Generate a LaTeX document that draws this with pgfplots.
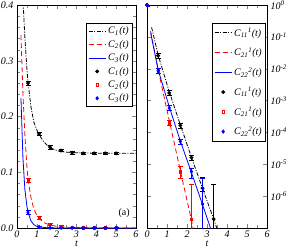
\documentclass[border=0pt]{standalone}
\usepackage{fontspec}
\setmainfont{Liberation Serif}
\usepackage{pgfplots}
\pgfplotsset{compat=1.18}
\newcommand{\Ct}[2]{\textit{C\textsubscript{#1}\textsuperscript{#2}(t)}}
\begin{document}
\begin{tikzpicture}
\useasboundingbox (-17pt,-22pt) rectangle (272pt,228pt);
\pgfplotsset{
  every axis/.append style={
    scale only axis,
    height=223pt,
    tick align=inside,
    ticklabel style={font=\itshape\normalsize, /pgf/number format/assume math mode=true},
    xmin=0, xmax=6, xtick={0,1,2,3,4,5,6}, minor x tick num=1,
    xlabel={\textit{t}},
    xlabel style={yshift=3pt},
    xticklabel style={yshift=1pt},
    legend cell align=left,
    clip mode=individual,
    legend style={draw=black, line width=0.6pt, inner xsep=2pt, inner ysep=1.5pt, font=\normalsize},
    every axis plot/.append style={line width=0.8pt},
    error bars/error bar style={line width=0.5pt},
    error bars/error mark options={line width=0.5pt, mark size=2.5pt, rotate=90},
  },
  ddot/.style={black, dash pattern=on 4pt off 1.5pt on 1pt off 1.5pt},
  rdash/.style={red, dash pattern=on 5pt off 3pt},
  bsol/.style={blue},
}
% ---------------- left panel ----------------
\begin{axis}[at={(0pt,0pt)}, anchor=south west, width=119pt,
  ymin=0, ymax=0.4, ytick={0,0.1,0.2,0.3,0.4}, minor y tick num=4,
  yticklabel style={/pgf/number format/.cd, fixed, fixed zerofill, precision=1},
  legend style={at={(0.975,0.919)}, anchor=north east, row sep=1pt},
]
\addplot[ddot, no marks] coordinates {
 (0.20,0.52) (0.30,0.41) (0.40,0.34) (0.50,0.285) (0.556,0.262) (0.70,0.218)
 (0.85,0.190) (1.00,0.176) (1.111,0.168) (1.30,0.157) (1.50,0.149) (1.667,0.144)
 (2.00,0.139) (2.222,0.137) (2.50,0.136) (3.00,0.135) (4.00,0.134) (6.00,0.134)};
\addlegendentry{\Ct{1}{}}
\addplot[rdash, no marks] coordinates {
 (0.20,0.346) (0.30,0.24) (0.40,0.165) (0.50,0.110) (0.556,0.088) (0.70,0.055)
 (0.85,0.034) (1.00,0.023) (1.111,0.018) (1.30,0.011) (1.50,0.0075) (1.667,0.0055)
 (2.00,0.003) (2.50,0.0015) (3.00,0.0007) (4.00,0.0002) (6.00,0.0)};
\addlegendentry{\Ct{2}{}}
\addplot[bsol, no marks] coordinates {
 (0.20,0.233) (0.30,0.125) (0.40,0.068) (0.50,0.039) (0.556,0.029) (0.70,0.013)
 (0.85,0.006) (1.00,0.003) (1.111,0.002) (1.50,0.0005) (2.00,0.0001) (6.00,0.0)};
\addlegendentry{\Ct{3}{}}
\addplot[black, only marks, mark=*, mark size=1.5pt,
  error bars/.cd, y dir=both, y explicit] coordinates {
 (0.556,0.260) +- (0,0.004) (1.111,0.169) +- (0,0.003) (1.667,0.145) +- (0,0.003)
 (2.222,0.139) +- (0,0.002) (2.778,0.135) +- (0,0.002) (3.333,0.134) +- (0,0.002)
 (3.889,0.134) +- (0,0.002) (4.444,0.134) +- (0,0.002) (5.0,0.134) +- (0,0.002)};
\addlegendentry{\Ct{1}{}}
\addplot[red, only marks, mark=square, mark size=1.2pt, mark options={line width=0.5pt},
  error bars/.cd, y dir=both, y explicit] coordinates {
 (0.556,0.086) +- (0,0.004) (1.111,0.0185) +- (0,0.003) (1.667,0.0068) +- (0,0.002)
 (2.222,0.0035) +- (0,0.002) (2.778,0.0012) +- (0,0.001) (3.333,0.0006) +- (0,0.001)
 (3.889,0.0003) +- (0,0.001) (4.444,0.0002) +- (0,0.001) (5.0,0.0002) +- (0,0.001)};
\addlegendentry{\Ct{2}{}}
\addplot[blue, only marks, mark=diamond*, mark size=1.6pt,
  error bars/.cd, y dir=both, y explicit] coordinates {
 (0.556,0.028) +- (0,0.003) (1.111,0.002) +- (0,0.002) (1.667,0.0004) +- (0,0.001)
 (2.222,0.0002) +- (0,0.001) (2.778,0.0001) +- (0,0.001) (3.333,0.0001) +- (0,0.001)
 (3.889,0.0001) +- (0,0.001) (4.444,0.0001) +- (0,0.001) (5.0,0.0001) +- (0,0.001)};
\addlegendentry{\Ct{3}{}}
\node[font=\normalsize] at (axis cs:5.4,0.027) {(a)};
\end{axis}
% ---------------- right panel ----------------
\begin{axis}[at={(130pt,0pt)}, anchor=south west, width=120pt,
  ymode=log, ymin=1e-7, ymax=1,
  ytick={1,1e-1,1e-2,1e-3,1e-4,1e-5,1e-6},
  yticklabels={10\textsuperscript{0},10\textsuperscript{-1},10\textsuperscript{-2},10\textsuperscript{-3},10\textsuperscript{-4},10\textsuperscript{-5},10\textsuperscript{-6}},
  yticklabel pos=right,
  legend style={at={(0.992,0.921)}, anchor=north east, row sep=6pt, inner ysep=3pt},
]
\addplot[ddot, no marks] coordinates {
 (0.23,0.1995) (0.556,0.02692) (1.111,0.001905) (1.667,1.738e-4) (2.222,1.660e-5)
 (2.778,1.738e-6) (3.333,1.905e-7) (3.6,6.31e-8)};
\addlegendentry{\Ct{11}{1}}
\addplot[rdash, no marks] coordinates {
 (0.18,0.1514) (0.556,0.00955) (1.111,2.399e-4) (1.667,6.31e-6) (2.222,1.778e-7) (2.33,8.51e-8)};
\addlegendentry{\Ct{21}{1}}
\addplot[bsol, no marks] coordinates {
 (0.18,0.1349) (0.556,0.00933) (1.111,6.457e-4) (1.667,5.37e-5) (2.222,5.50e-6)
 (2.778,5.37e-7) (3.2,8.91e-8)};
\addlegendentry{\Ct{22}{2}}
\addplot[black, only marks, mark=*, mark size=1.5pt,
  error bars/.cd, y dir=both, y explicit] coordinates {
 (0,1) +- (0,0.1)
 (0.556,0.0257) += (0,0.005) -= (0,0.004)
 (1.111,1.738e-3) += (0,3.5e-4) -= (0,2.8e-4)
 (1.667,1.660e-4) += (0,3.3e-5) -= (0,2.7e-5)
 (2.222,1.622e-5) += (0,3.2e-6) -= (0,2.6e-6)
 (2.778,1.778e-6) += (0,2.2e-6) -= (0,0.4e-6)
 (3.333,1.905e-7) += (0,2.1e-6) -= (0,1.895e-7)};
\addlegendentry{\Ct{11}{1}}
\addplot[red, only marks, mark=square, mark size=1.2pt, mark options={line width=0.5pt},
  error bars/.cd, y dir=both, y explicit] coordinates {
 (0,1) +- (0,0.1)
 (0.556,8.71e-3) += (0,1.7e-3) -= (0,1.4e-3)
 (1.111,1.995e-4) += (0,4e-5) -= (0,3.2e-5)
 (1.667,5.89e-6) += (0,2.62e-6) -= (0,2.17e-6)
 (2.222,1.905e-7) += (0,2.1e-6) -= (0,1.895e-7)};
\addlegendentry{\Ct{21}{1}}
\addplot[blue, only marks, mark=diamond*, mark size=1.6pt,
  error bars/.cd, y dir=both, y explicit] coordinates {
 (0,1) +- (0,0.1)
 (0.556,8.71e-3) += (0,1.7e-3) -= (0,1.4e-3)
 (1.111,5.89e-4) += (0,1.2e-4) -= (0,0.95e-4)
 (1.667,5.25e-5) += (0,1.05e-5) -= (0,0.85e-5)
 (2.222,5.89e-6) += (0,1.87e-6) -= (0,2.17e-6)
 (2.778,5.62e-7) += (0,2.99e-6) -= (0,5.61e-7)};
\addlegendentry{\Ct{22}{2}}
\end{axis}
\end{tikzpicture}
\end{document}
